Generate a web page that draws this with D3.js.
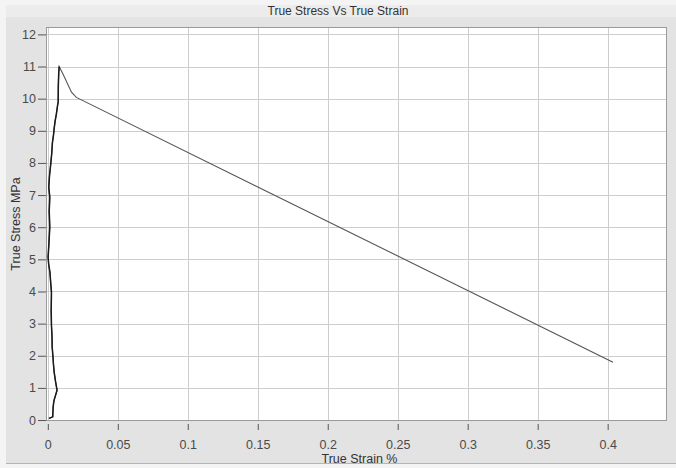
<!DOCTYPE html>
<html>
<head>
  <meta charset="utf-8">
  <title>True Stress Vs True Strain</title>
  <script src="https://d3js.org/d3.v7.min.js"></script>
  <style>
    body { margin: 0; background: #f7f7f7; }
    svg { display: block; font-family: "Liberation Sans", Arial, sans-serif; }
    .grid line { stroke: #cdcdcd; stroke-width: 1; }
    .tick text { fill: #4a4a4a; font-size: 12.5px; }
  </style>
</head>
<body>
  <script>
    // strain values (%)
    var strain = [0.0008, 0.0035, 0.0038, 0.0042, 0.0045, 0.0066, 0.0055, 0.0045, 0.0040, 0.0038,
                  0.0031, 0.0030, 0.0026, 0.0024, 0.0026, 0.0021, 0.0015, 0.0006, 0.0002, 0.0008,
                  0.0014, 0.0010, 0.0014, 0.0007, 0.0012, 0.0021, 0.0028, 0.0033, 0.0040, 0.0045,
                  0.0052, 0.0061, 0.0070, 0.0074, 0.0075, 0.0078, 0.0081, 0.0110, 0.0169, 0.0204,
                  0.4038];
    // true stress values (MPa)
    var stress = [0.05, 0.10, 0.40, 0.55, 0.62, 0.93, 1.20, 1.50, 1.75, 1.90,
                  2.28, 2.60, 2.95, 3.40, 3.98, 4.25, 4.60, 4.85, 5.07, 5.50,
                  6.00, 6.50, 6.93, 7.25, 7.60, 7.97, 8.30, 8.64, 8.85, 9.06,
                  9.30, 9.52, 9.80, 9.90, 10.40, 10.80, 11.00, 10.75, 10.20, 10.04,
                  1.80];
    var xTicks = [0, 0.05, 0.1, 0.15, 0.2, 0.25, 0.3, 0.35, 0.4];
    var yTicks = [0, 1, 2, 3, 4, 5, 6, 7, 8, 9, 10, 11, 12];

    var width = 676, height = 468;
    var plot = { left: 46, top: 27, right: 667, bottom: 421 };

    var svg = d3.select("body").append("svg")
      .attr("width", width)
      .attr("height", height);

    // frame
    svg.append("rect").attr("x", 0).attr("y", 0).attr("width", width).attr("height", height).attr("fill", "#f4f4f4");
    svg.append("rect").attr("x", 6).attr("y", 5).attr("width", width - 6).attr("height", 12).attr("fill", "#ececec");
    svg.append("rect").attr("x", 6).attr("y", 17).attr("width", width - 6).attr("height", 446).attr("fill", "#e3e3e3");
    svg.append("line").attr("x1", 6).attr("x2", width).attr("y1", 463.5).attr("y2", 463.5).attr("stroke", "#b5b5b5");

    var x = d3.scaleLinear().domain([-0.0013, 0.4424]).range([plot.left, plot.right]);
    var y = d3.scaleLinear().domain([-0.03, 12.23]).range([plot.bottom, plot.top]);

    svg.append("rect")
      .attr("x", plot.left).attr("y", plot.top)
      .attr("width", plot.right - plot.left).attr("height", plot.bottom - plot.top)
      .attr("fill", "#fff");

    // grid
    var grid = svg.append("g").attr("class", "grid");
    grid.selectAll(".gx").data(xTicks).enter().append("line")
      .attr("x1", d => Math.round(x(d)) + 0.5).attr("x2", d => Math.round(x(d)) + 0.5)
      .attr("y1", plot.top).attr("y2", plot.bottom);
    grid.selectAll(".gy").data(yTicks).enter().append("line")
      .attr("y1", d => Math.round(y(d)) + 0.5).attr("y2", d => Math.round(y(d)) + 0.5)
      .attr("x1", plot.left).attr("x2", plot.right);

    svg.append("rect")
      .attr("x", plot.left + 0.5).attr("y", plot.top + 0.5)
      .attr("width", plot.right - plot.left - 1).attr("height", plot.bottom - plot.top - 1)
      .attr("fill", "none").attr("stroke", "#9a9a9a");

    // axes
    var yAxis = svg.append("g")
      .attr("transform", "translate(" + plot.left + ",0)")
      .call(d3.axisLeft(y).tickValues(yTicks).tickSize(8).tickPadding(2).tickFormat(d3.format("d")));
    yAxis.select(".domain").remove();
    yAxis.selectAll(".tick line").attr("stroke", "#555");

    var xAxis = svg.append("g")
      .attr("transform", "translate(0," + (plot.bottom + 3) + ")")
      .call(d3.axisBottom(x).tickValues(xTicks).tickSize(6).tickPadding(10).tickFormat(d => d === 0 ? "0" : String(d)));
    xAxis.select(".domain").remove();
    xAxis.selectAll(".tick line").attr("stroke", "#555");

    // curve: whole path in gray, loading part (up to the peak) darker on top
    var pts = strain.map((s, i) => [s, stress[i]]);
    var peak = d3.maxIndex(stress);
    var line = d3.line().x(d => x(d[0])).y(d => y(d[1]));
    svg.append("path")
      .datum(pts)
      .attr("fill", "none")
      .attr("stroke", "#555")
      .attr("stroke-width", 1.1)
      .attr("d", line);
    svg.append("path")
      .datum(pts.slice(0, peak + 1))
      .attr("fill", "none")
      .attr("stroke", "#1a1a1a")
      .attr("stroke-width", 1.5)
      .attr("d", line);

    // titles
    svg.append("text")
      .attr("x", width / 2).attr("y", 15)
      .attr("text-anchor", "middle")
      .attr("fill", "#333").attr("font-size", 12)
      .text("True Stress Vs True Strain");

    svg.append("text")
      .attr("x", (plot.left + plot.right) / 2 + 3).attr("y", 463)
      .attr("text-anchor", "middle")
      .attr("fill", "#333").attr("font-size", 12.5)
      .text("True Strain %");

    svg.append("text")
      .attr("transform", "translate(20," + ((plot.top + plot.bottom) / 2) + ") rotate(-90)")
      .attr("text-anchor", "middle")
      .attr("fill", "#333").attr("font-size", 12.5)
      .text("True Stress MPa");
  </script>
</body>
</html>
